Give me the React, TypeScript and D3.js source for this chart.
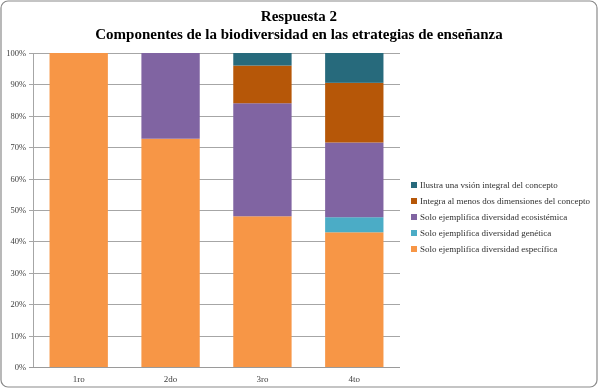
import { useEffect, useRef } from "react";
import * as d3 from "d3";

// Datos (porcentajes por curso)
const CURSOS = ["1ro", "2do", "3ro", "4to"];
const SERIES = [
  "Solo ejemplifica diversidad específica",
  "Solo ejemplifica diversidad genética",
  "Solo ejemplifica diversidad ecosistémica",
  "Integra al menos dos dimensiones del concepto",
  "Ilustra una vsión integral del concepto",
];
const ESPECIFICA = [100, 72.7, 48, 42.9];
const GENETICA = [0, 0, 0, 4.8];
const ECOSISTEMICA = [0, 27.3, 36, 23.8];
const INTEGRA = [0, 0, 12, 19];
const ILUSTRA = [0, 0, 4, 9.5];
const TICKS = [0, 10, 20, 30, 40, 50, 60, 70, 80, 90, 100];

const COLORES = ["#F79646", "#4BACC6", "#8064A2", "#B65708", "#276A7C"];

const WIDTH = 599;
const HEIGHT = 389;
const FONT = "'Liberation Serif', 'DejaVu Serif', serif";

const App = () => {
  const svgRef = useRef<SVGSVGElement>(null);

  useEffect(() => {
    if (!svgRef.current) return;
    const svg = d3.select(svgRef.current);
    svg.selectAll("*").remove();

    const margin = { top: 53, right: 199, bottom: 22, left: 33 };
    const innerWidth = WIDTH - margin.left - margin.right;
    const innerHeight = HEIGHT - margin.top - margin.bottom;

    // Fondo y borde redondeado
    svg
      .append("rect")
      .attr("x", 1)
      .attr("y", 1)
      .attr("width", WIDTH - 3)
      .attr("height", HEIGHT - 3)
      .attr("rx", 7)
      .attr("fill", "white")
      .attr("stroke", "#8a8a8a")
      .attr("stroke-width", 1.2);

    // Título
    const titulo = svg
      .append("text")
      .attr("text-anchor", "middle")
      .style("font-family", FONT)
      .style("font-weight", "bold")
      .style("font-size", "15px")
      .attr("fill", "#000");
    titulo.append("tspan").attr("x", 299).attr("y", 21).text("Respuesta 2");
    titulo
      .append("tspan")
      .attr("x", 299)
      .attr("y", 39)
      .text("Componentes de la biodiversidad en las etrategias de enseñanza");

    const g = svg
      .append("g")
      .attr("transform", `translate(${margin.left},${margin.top})`);

    const x = d3
      .scaleBand()
      .domain(CURSOS)
      .range([0, innerWidth])
      .paddingInner(0.365)
      .paddingOuter(0.18);

    const y = d3.scaleLinear().domain([0, 100]).range([innerHeight, 0]);

    // Grid
    g.append("g")
      .selectAll("line")
      .data(TICKS)
      .enter()
      .append("line")
      .attr("x1", -4)
      .attr("x2", innerWidth)
      .attr("y1", (d) => Math.round(y(d)) + 0.5)
      .attr("y2", (d) => Math.round(y(d)) + 0.5)
      .attr("stroke", (d) => (d === 0 ? "#9a9a9a" : "#a6a6a6"))
      .attr("stroke-width", 1.2);

    // Eje Y (línea vertical)
    g.append("line")
      .attr("x1", 0.5)
      .attr("x2", 0.5)
      .attr("y1", 0)
      .attr("y2", innerHeight)
      .attr("stroke", "#a6a6a6");

    // Etiquetas eje Y
    g.append("g")
      .selectAll("text")
      .data(TICKS)
      .enter()
      .append("text")
      .attr("x", -7)
      .attr("y", (d) => y(d))
      .attr("dy", "0.35em")
      .attr("text-anchor", "end")
      .style("font-family", FONT)
      .style("font-size", "8.5px")
      .attr("fill", "#404040")
      .text((d) => `${d}%`);

    // Etiquetas eje X
    g.append("g")
      .selectAll("text")
      .data(CURSOS)
      .enter()
      .append("text")
      .attr("x", (d) => (x(d) ?? 0) + x.bandwidth() / 2)
      .attr("y", innerHeight + 15)
      .attr("text-anchor", "middle")
      .style("font-family", FONT)
      .style("font-size", "9px")
      .attr("fill", "#404040")
      .text((d) => d);

    // Barras apiladas
    const valores = [ESPECIFICA, GENETICA, ECOSISTEMICA, INTEGRA, ILUSTRA];
    const filas = CURSOS.map((c, i) => {
      const row: Record<string, number | string> = { curso: c };
      SERIES.forEach((s, j) => (row[s] = valores[j][i]));
      return row;
    });
    const stack = d3.stack<Record<string, number | string>>().keys(SERIES);
    const apilado = stack(filas as any);

    apilado.forEach((serie, j) => {
      g.append("g")
        .attr("fill", COLORES[j])
        .selectAll("rect")
        .data(serie)
        .enter()
        .filter((d) => d[1] - d[0] > 0)
        .append("rect")
        .attr("x", (d) => x(d.data.curso as string) ?? 0)
        .attr("width", x.bandwidth())
        .attr("y", (d) => y(d[1]))
        .attr("height", (d) => y(d[0]) - y(d[1]));
    });

    // Leyenda (orden inverso)
    const leyenda = svg.append("g").attr("transform", "translate(411,185)");
    const orden = SERIES.map((s, j) => ({ s, j })).reverse();
    orden.forEach(({ s, j }, i) => {
      const yPos = i * 16;
      leyenda
        .append("rect")
        .attr("x", 0)
        .attr("y", yPos - 3)
        .attr("width", 6)
        .attr("height", 6)
        .attr("fill", COLORES[j]);
      leyenda
        .append("text")
        .attr("x", 9)
        .attr("y", yPos)
        .attr("dy", "0.35em")
        .style("font-family", FONT)
        .style("font-size", "9px")
        .attr("fill", "#303030")
        .text(s);
    });
  }, []);

  return (
    <svg
      ref={svgRef}
      width={WIDTH}
      height={HEIGHT}
      style={{ display: "block", position: "fixed", top: 0, left: 0 }}
    />
  );
};

export default App;
